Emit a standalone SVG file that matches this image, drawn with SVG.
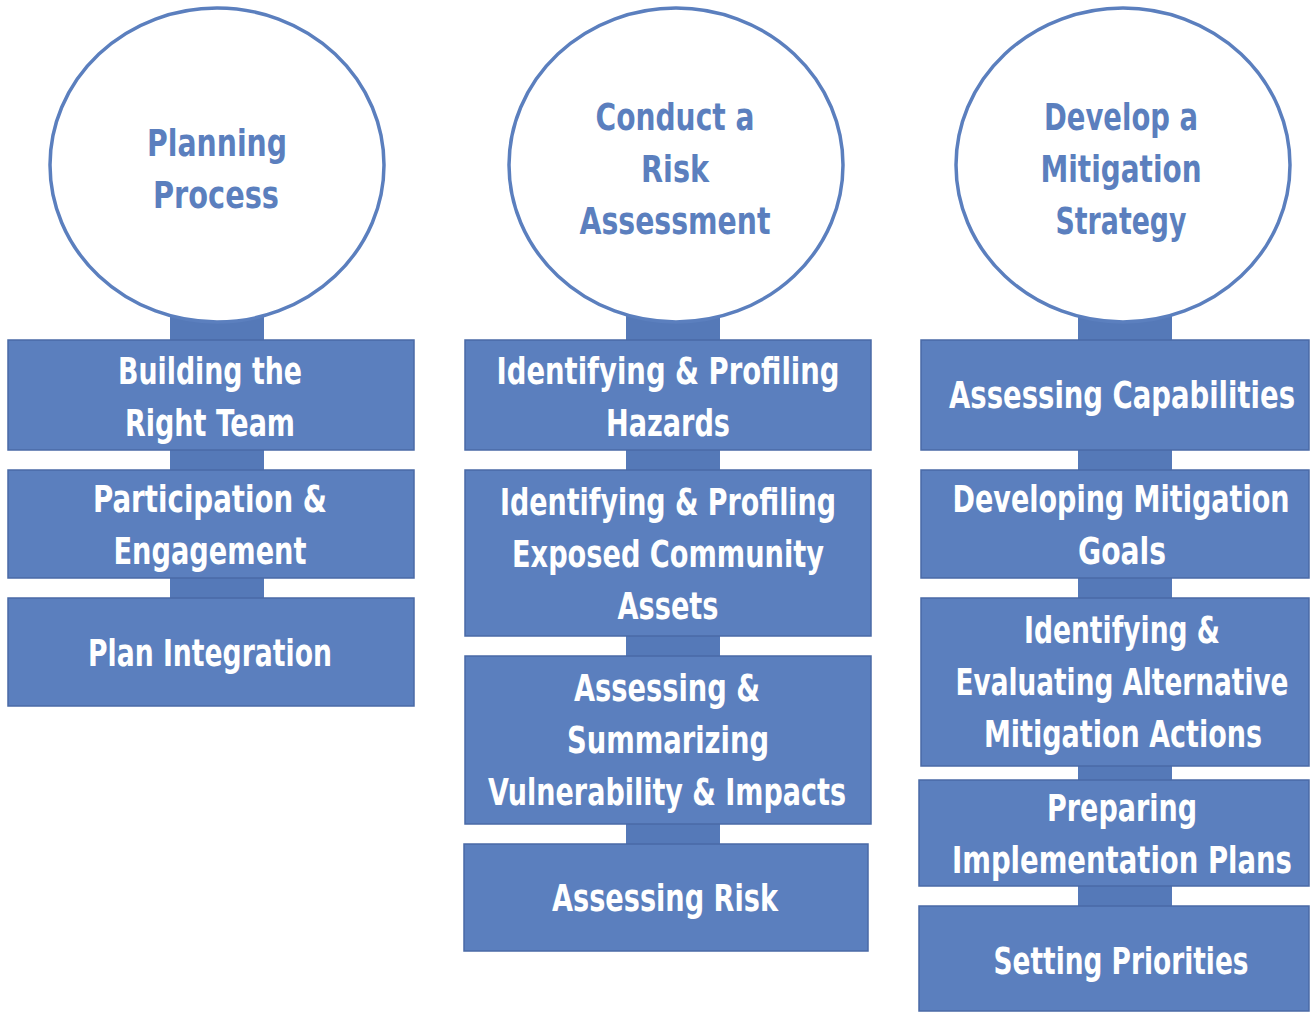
<svg xmlns="http://www.w3.org/2000/svg" width="1310" height="1012" viewBox="0 0 1310 1012">
<style>
.box{fill:#5b7fbe;stroke:#4a6aa6;stroke-width:1.5}
.circ{fill:#ffffff;stroke:#5b7fbe;stroke-width:3.5}
.stem{fill:#5579b8}
.bt{fill:#ffffff;font-family:"Liberation Sans Narrow","DejaVu Sans Condensed","Liberation Sans",sans-serif;font-weight:bold;font-size:38px;text-anchor:middle}
.ct{fill:#5b7fbe;font-family:"Liberation Sans Narrow","DejaVu Sans Condensed","Liberation Sans",sans-serif;font-weight:bold;font-size:38px;text-anchor:middle}
</style>
<rect width="1310" height="1012" fill="#ffffff"/>
<g id="connectors">
<rect class="stem" x="170" y="300" width="94" height="300"/>
<rect class="stem" x="626" y="300" width="94" height="546"/>
<rect class="stem" x="1078" y="300" width="94" height="608"/>
</g>
<g id="planning-process">
<ellipse class="circ" cx="217" cy="165" rx="167" ry="157"/>
<text class="ct" transform="translate(217,156) scale(0.75,1)" textLength="186.7" lengthAdjust="spacingAndGlyphs">Planning</text>
<text class="ct" transform="translate(216,208) scale(0.75,1)" textLength="168" lengthAdjust="spacingAndGlyphs">Process</text>
</g>
<g id="risk-assessment">
<ellipse class="circ" cx="676" cy="165" rx="167" ry="157"/>
<text class="ct" transform="translate(675,130) scale(0.75,1)" textLength="212" lengthAdjust="spacingAndGlyphs">Conduct a</text>
<text class="ct" transform="translate(675,182) scale(0.75,1)" textLength="90.7" lengthAdjust="spacingAndGlyphs">Risk</text>
<text class="ct" transform="translate(675,234) scale(0.75,1)" textLength="254.7" lengthAdjust="spacingAndGlyphs">Assessment</text>
</g>
<g id="mitigation-strategy">
<ellipse class="circ" cx="1123" cy="165" rx="167" ry="157"/>
<text class="ct" transform="translate(1121,130) scale(0.75,1)" textLength="205.3" lengthAdjust="spacingAndGlyphs">Develop a</text>
<text class="ct" transform="translate(1121,182) scale(0.75,1)" textLength="214.7" lengthAdjust="spacingAndGlyphs">Mitigation</text>
<text class="ct" transform="translate(1121,234) scale(0.75,1)" textLength="174.7" lengthAdjust="spacingAndGlyphs">Strategy</text>
</g>
<g id="building-team">
<rect class="box" x="8" y="340" width="406" height="110"/>
<text class="bt" transform="translate(210,384) scale(0.75,1)" textLength="245.3" lengthAdjust="spacingAndGlyphs">Building the</text>
<text class="bt" transform="translate(210,436) scale(0.75,1)" textLength="226.7" lengthAdjust="spacingAndGlyphs">Right Team</text>
</g>
<g id="participation">
<rect class="box" x="8" y="470" width="406" height="108"/>
<text class="bt" transform="translate(210,512) scale(0.75,1)" textLength="312" lengthAdjust="spacingAndGlyphs">Participation &amp;</text>
<text class="bt" transform="translate(210,564) scale(0.75,1)" textLength="257.3" lengthAdjust="spacingAndGlyphs">Engagement</text>
</g>
<g id="plan-integration">
<rect class="box" x="8" y="598" width="406" height="108"/>
<text class="bt" transform="translate(210,666) scale(0.75,1)" textLength="325.3" lengthAdjust="spacingAndGlyphs">Plan Integration</text>
</g>
<g id="hazards">
<rect class="box" x="465" y="340" width="406" height="110"/>
<text class="bt" transform="translate(668,384) scale(0.75,1)" textLength="457.3" lengthAdjust="spacingAndGlyphs">Identifying  &amp; Profiling</text>
<text class="bt" transform="translate(668,436) scale(0.75,1)" textLength="165.3" lengthAdjust="spacingAndGlyphs">Hazards</text>
</g>
<g id="community-assets">
<rect class="box" x="465" y="470" width="406" height="166"/>
<text class="bt" transform="translate(668,515) scale(0.75,1)" textLength="448" lengthAdjust="spacingAndGlyphs">Identifying &amp; Profiling</text>
<text class="bt" transform="translate(668,567) scale(0.75,1)" textLength="416" lengthAdjust="spacingAndGlyphs">Exposed Community</text>
<text class="bt" transform="translate(668,619) scale(0.75,1)" textLength="134.7" lengthAdjust="spacingAndGlyphs">Assets</text>
</g>
<g id="vulnerability">
<rect class="box" x="465" y="656" width="406" height="168"/>
<text class="bt" transform="translate(667,701) scale(0.75,1)" textLength="248" lengthAdjust="spacingAndGlyphs">Assessing &amp;</text>
<text class="bt" transform="translate(668,753) scale(0.75,1)" textLength="269.3" lengthAdjust="spacingAndGlyphs">Summarizing</text>
<text class="bt" transform="translate(667,805) scale(0.75,1)" textLength="477.3" lengthAdjust="spacingAndGlyphs">Vulnerability &amp; Impacts</text>
</g>
<g id="assessing-risk">
<rect class="box" x="464" y="844" width="404" height="107"/>
<text class="bt" transform="translate(665,911) scale(0.75,1)" textLength="301.3" lengthAdjust="spacingAndGlyphs">Assessing Risk</text>
</g>
<g id="capabilities">
<rect class="box" x="921" y="340" width="388" height="110"/>
<text class="bt" transform="translate(1122,408) scale(0.75,1)" textLength="461.3" lengthAdjust="spacingAndGlyphs">Assessing Capabilities</text>
</g>
<g id="goals">
<rect class="box" x="921" y="470" width="388" height="108"/>
<text class="bt" transform="translate(1121,512) scale(0.75,1)" textLength="449.3" lengthAdjust="spacingAndGlyphs">Developing Mitigation</text>
<text class="bt" transform="translate(1122,564) scale(0.75,1)" textLength="117.3" lengthAdjust="spacingAndGlyphs">Goals</text>
</g>
<g id="alternatives">
<rect class="box" x="921" y="598" width="388" height="168"/>
<text class="bt" transform="translate(1122,643) scale(0.75,1)" textLength="261.3" lengthAdjust="spacingAndGlyphs">Identifying &amp;</text>
<text class="bt" transform="translate(1122,695) scale(0.75,1)" textLength="444" lengthAdjust="spacingAndGlyphs">Evaluating Alternative</text>
<text class="bt" transform="translate(1123,747) scale(0.75,1)" textLength="370.7" lengthAdjust="spacingAndGlyphs">Mitigation Actions</text>
</g>
<g id="implementation">
<rect class="box" x="919" y="780" width="390" height="106"/>
<text class="bt" transform="translate(1122,821) scale(0.75,1)" textLength="200" lengthAdjust="spacingAndGlyphs">Preparing</text>
<text class="bt" transform="translate(1122,873) scale(0.75,1)" textLength="453.3" lengthAdjust="spacingAndGlyphs">Implementation Plans</text>
</g>
<g id="priorities">
<rect class="box" x="919" y="906" width="390" height="105"/>
<text class="bt" transform="translate(1121,974) scale(0.75,1)" textLength="340" lengthAdjust="spacingAndGlyphs">Setting Priorities</text>
</g>
</svg>
